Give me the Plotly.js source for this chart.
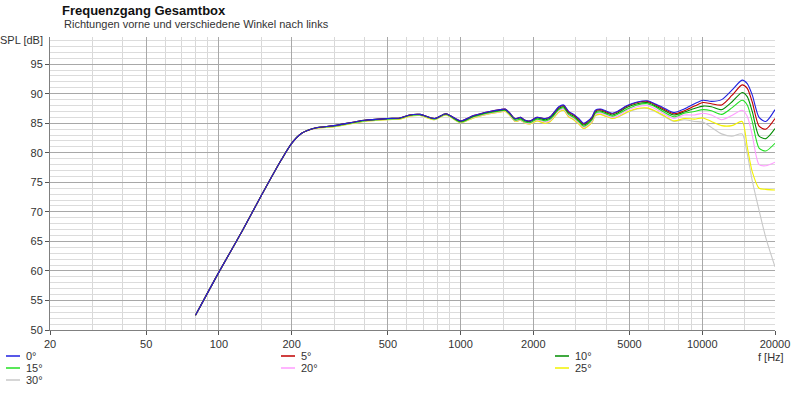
<!DOCTYPE html>
<html>
<head>
<meta charset="utf-8">
<script src="https://cdn.plot.ly/plotly-3.0.1.min.js"></script>
<style>html,body{margin:0;padding:0;background:#fff;}#chart{width:800px;height:393px;}</style>
</head>
<body>
<div id="chart"></div>
<script>
const freqHz = [80,100,125,150,180,200,220,250,300,400,
  500,560,615,680,780,870,1000,1130,1320,1460,
  1530,1600,1680,1770,1850,1940,2070,2240,2350,2550,
  2670,2800,2940,3080,3230,3340,3500,3610,3790,3980,
  4240,4450,4890,5380,5920,6300,6930,7640,8420,9290,
  10070,10910,12030,13260,14620,15350,16100,17180,18330,20000];

const spl0 = [52.5,59.8,66.8,72.8,78.6,81.6,83.3,84.2,84.6,85.5,
  85.8,85.9,86.4,86.5,85.8,86.6,85.4,86.3,87.0,87.3,
  87.4,86.7,85.8,86.0,85.5,85.4,86.0,85.8,86.1,87.8,
  88.1,87.0,86.5,85.8,85.0,85.3,86.1,87.2,87.4,87.1,
  86.7,87.0,88.0,88.6,88.8,88.4,87.6,86.8,87.4,88.3,
  88.9,88.7,89.0,90.6,92.3,91.7,89.8,86.0,85.3,87.3];
const spl5 = [52.5,59.8,66.8,72.8,78.6,81.6,83.3,84.2,84.6,85.5,
  85.8,85.9,86.4,86.5,85.8,86.6,85.4,86.3,87.0,87.3,
  87.4,86.7,85.8,86.0,85.5,85.4,86.0,85.8,86.1,87.7,
  88.0,86.9,86.4,85.7,84.9,85.2,86.0,87.1,87.3,87.0,
  86.6,86.9,87.9,88.5,88.7,88.3,87.4,86.6,87.1,87.9,
  88.5,88.3,88.1,89.7,91.5,90.9,88.6,84.5,84.0,85.8];
const spl10 = [52.5,59.8,66.8,72.8,78.6,81.6,83.3,84.2,84.6,85.5,
  85.8,85.9,86.4,86.5,85.8,86.6,85.3,86.2,86.9,87.2,
  87.3,86.6,85.7,85.9,85.4,85.3,85.9,85.6,85.9,87.5,
  87.8,86.7,86.2,85.5,84.7,85.0,85.8,86.9,87.1,86.8,
  86.4,86.7,87.7,88.3,88.5,88.1,87.2,86.4,86.9,87.5,
  87.9,87.8,87.3,88.6,90.2,89.5,87.0,82.8,82.4,84.1];
const spl15 = [52.5,59.8,66.8,72.8,78.6,81.6,83.3,84.2,84.5,85.4,
  85.7,85.8,86.3,86.4,85.7,86.5,85.2,86.1,86.8,87.1,
  87.2,86.5,85.5,85.7,85.2,85.1,85.7,85.4,85.7,87.3,
  87.6,86.5,86.0,85.3,84.5,84.8,85.6,86.7,86.9,86.6,
  86.2,86.5,87.4,88.1,88.3,87.9,86.9,86.1,86.7,87.0,
  87.3,87.1,86.5,87.6,88.9,88.1,85.3,80.8,80.3,81.6];
const spl20 = [52.5,59.8,66.8,72.8,78.6,81.6,83.3,84.2,84.5,85.4,
  85.7,85.8,86.3,86.4,85.7,86.5,85.2,86.0,86.7,87.0,
  87.1,86.4,85.4,85.6,85.1,85.0,85.6,85.2,85.5,87.1,
  87.4,86.3,85.8,85.1,84.3,84.6,85.4,86.5,86.7,86.4,
  86.0,86.2,87.2,87.8,88.0,87.6,86.6,85.8,86.4,86.4,
  86.7,86.4,85.6,86.3,87.2,86.2,83.0,78.0,77.8,78.4];
const spl25 = [52.5,59.8,66.8,72.8,78.6,81.6,83.3,84.1,84.4,85.3,
  85.6,85.7,86.2,86.3,85.6,86.4,85.1,85.9,86.6,86.9,
  87.0,86.3,85.3,85.5,85.0,84.9,85.4,85.0,85.3,86.9,
  87.2,86.1,85.6,84.9,84.1,84.4,85.2,86.3,86.5,86.2,
  85.8,86.0,86.9,87.5,87.6,87.2,86.3,85.4,85.8,85.7,
  85.9,85.3,84.6,84.6,85.3,81.0,76.8,74.0,73.8,73.7];
const spl30 = [52.5,59.8,66.8,72.8,78.6,81.6,83.3,84.1,84.4,85.3,
  85.6,85.7,86.2,86.3,85.6,86.4,85.1,85.9,86.6,86.9,
  87.0,86.3,85.3,85.5,85.0,84.9,85.4,85.0,85.3,86.9,
  87.2,86.1,85.6,84.9,84.1,84.4,85.2,86.3,86.5,86.2,
  85.8,86.0,86.8,87.4,87.5,87.1,86.2,85.3,85.6,85.3,
  85.2,84.3,83.2,82.8,83.2,79.8,75.3,70.3,65.6,60.7];

const seriesNames = ['0°','5°','10°','15°','20°','25°','30°'];
const seriesValues = [spl0, spl5, spl10, spl15, spl20, spl25, spl30];
const seriesColors = ['#2020e0','#c00000','#008c00','#22e022','#ff9cff','#f2f200','#c8c8c8'];

const xTickVals = [20,50,100,200,500,1000,2000,5000,10000,20000];
const xTickText = ['20','50','100','200','500','1000','2000','5000','10000','20000'];
const xMinorVals = [30,40,60,70,80,90,150,300,400,600,700,800,900,1500,3000,4000,6000,7000,8000,9000,15000];
const yTickVals = [50,55,60,65,70,75,80,85,90,95];

const titleText = 'Frequenzgang Gesamtbox';
const subtitleText = 'Richtungen vorne und verschiedene Winkel nach links';
const yLabel = 'SPL [dB]';
const xLabel = 'f [Hz]';

const W = 800, H = 393;
const M = {l: 50, r: 25, t: 37, b: 63};
const plotW = W - M.l - M.r, plotH = H - M.t - M.b;
const px2x = px => (px - M.l) / plotW;
const py2y = py => (H - M.b - py) / plotH;

const FONT = 'Liberation Sans, Arial, sans-serif';

const traces = [];
for (let i = seriesNames.length - 1; i >= 0; i--) {
  traces.push({
    x: freqHz, y: seriesValues[i], name: seriesNames[i],
    type: 'scatter', mode: 'lines',
    line: {color: seriesColors[i], width: 1.1, shape: 'spline', smoothing: 0.7},
    showlegend: false, hoverinfo: 'x+y+name'
  });
}

const shapes = [];
const annotations = [];
const legCols = [6, 281, 555];
const legRows = [356, 368, 380];
seriesNames.forEach((n, i) => {
  const cx = legCols[i % 3], ry = legRows[Math.floor(i / 3)];
  shapes.push({type: 'line', xref: 'paper', yref: 'paper',
    x0: px2x(cx), x1: px2x(cx + 14), y0: py2y(ry), y1: py2y(ry),
    line: {color: seriesColors[i], width: 1.5}});
  annotations.push({xref: 'paper', yref: 'paper', x: px2x(cx + 18), y: py2y(ry),
    xanchor: 'left', yanchor: 'middle', showarrow: false, text: n,
    font: {family: FONT, size: 11, color: '#333'}});
});

annotations.push({xref: 'paper', yref: 'paper', x: px2x(62), y: py2y(24),
  xanchor: 'left', yanchor: 'middle', showarrow: false, text: subtitleText,
  font: {family: FONT, size: 11, color: '#333'}});
annotations.push({xref: 'paper', yref: 'paper', x: px2x(45), y: py2y(40),
  xanchor: 'right', yanchor: 'middle', showarrow: false, text: yLabel,
  font: {family: FONT, size: 11, color: '#333'}});
annotations.push({xref: 'paper', yref: 'paper', x: px2x(786), y: py2y(357),
  xanchor: 'right', yanchor: 'middle', showarrow: false, text: xLabel,
  font: {family: FONT, size: 11, color: '#333'}});

const layout = {
  width: W, height: H, margin: M,
  paper_bgcolor: '#fff', plot_bgcolor: '#fff',
  showlegend: false,
  title: {text: '<b>' + titleText + '</b>', xref: 'container', yref: 'container',
    x: 62 / W, xanchor: 'left', y: 1 - 10 / H, yanchor: 'middle',
    font: {family: FONT, size: 13, color: '#111'}},
  xaxis: {type: 'log', range: [Math.log10(20), Math.log10(20000)],
    tickmode: 'array', tickvals: xTickVals, ticktext: xTickText,
    ticks: 'outside', ticklen: 4, tickcolor: '#555',
    showgrid: true, gridcolor: '#a8a8a8', gridwidth: 1,
    minor: {tickmode: 'array', tickvals: xMinorVals, showgrid: true, gridcolor: '#d8d8d8', gridwidth: 1, ticks: ''},
    showline: true, linecolor: '#808080', linewidth: 1, zeroline: false,
    tickfont: {family: FONT, size: 11, color: '#333'}},
  yaxis: {range: [50, 99.6], tickmode: 'array', tickvals: yTickVals,
    ticks: 'outside', ticklen: 4, tickcolor: '#555',
    showgrid: true, gridcolor: '#a8a8a8', gridwidth: 1,
    minor: {tickmode: 'linear', tick0: 50, dtick: 1, showgrid: true, gridcolor: '#dcdcdc', gridwidth: 1, ticks: ''},
    showline: true, mirror: false, linecolor: '#808080', linewidth: 1, zeroline: false,
    tickfont: {family: FONT, size: 11, color: '#333'}},
  shapes: shapes,
  annotations: annotations
};

Plotly.newPlot('chart', traces, layout, {displayModeBar: false, staticPlot: true});
</script>
</body>
</html>
